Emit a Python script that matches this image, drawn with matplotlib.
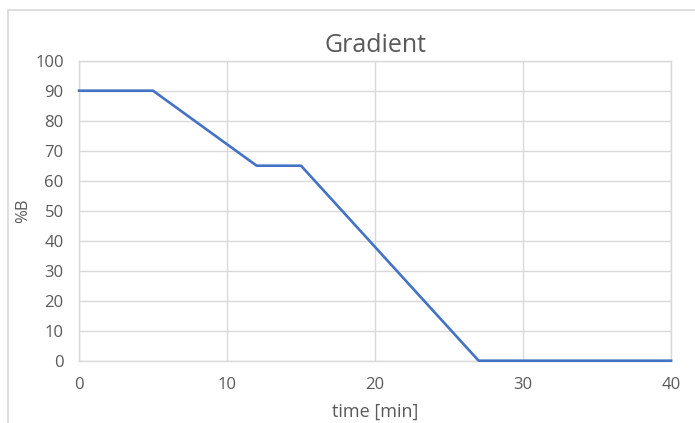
import matplotlib.pyplot as plt
from matplotlib.patches import Rectangle

# gradient program: time [min] vs %B
time_min = [0, 5, 12, 15, 27, 40]
percent_b = [90, 90, 65, 65, 0, 0]
x_ticks = [0, 10, 20, 30, 40]
y_ticks = [0, 10, 20, 30, 40, 50, 60, 70, 80, 90, 100]

plt.rcParams["font.family"] = ["Open Sans", "DejaVu Sans"]

grid_color = "#D9D9D9"
text_color = "#595959"

fig = plt.figure(figsize=(6.95, 4.23), dpi=100)
ax = fig.add_axes([0.1137, 0.1473, 0.8518, 0.7092])

# chart frame (cropped on right and bottom)
fig.patches.append(Rectangle((8 / 695, -0.1), 1.2, 1 - 10 / 423 + 0.1,
                             transform=fig.transFigure, fill=False,
                             edgecolor=grid_color, linewidth=1.2))

ax.plot(time_min, percent_b, color="#4472C4", linewidth=1.9, zorder=3,
        solid_joinstyle="round", clip_on=False)

ax.set_xlim(0, 40)
ax.set_ylim(0, 100)
ax.set_xticks(x_ticks)
ax.set_yticks(y_ticks)
ax.grid(True, color=grid_color, linewidth=1.0)
ax.set_axisbelow(True)
for spine in ax.spines.values():
    spine.set_color(grid_color)
    spine.set_linewidth(1.0)

ax.tick_params(length=0, labelsize=12, labelcolor=text_color)
ax.tick_params(axis="y", pad=11)
ax.tick_params(axis="x", pad=11.5)

ax.set_title("Gradient", fontsize=18, color=text_color, pad=6)
ax.set_xlabel("time [min]", fontsize=13, color=text_color, labelpad=7)
ax.set_ylabel("%B", fontsize=12, color=text_color, labelpad=3)

fig.savefig("out.png", dpi=100)
